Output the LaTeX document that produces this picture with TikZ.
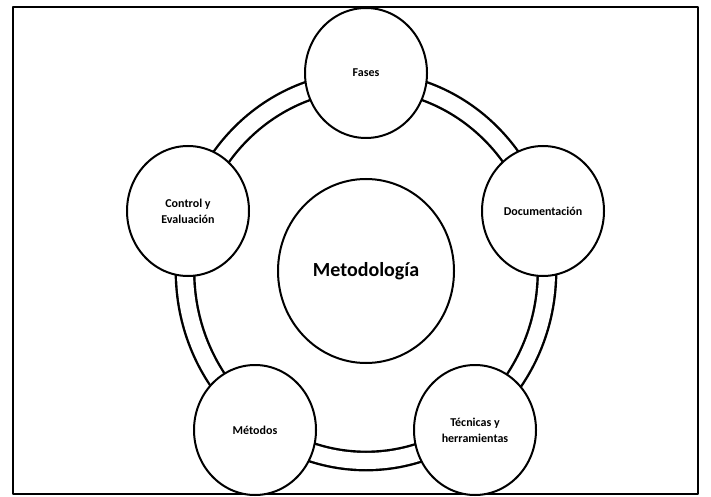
\documentclass[tikz,border=0pt]{standalone}
\usepackage{fontspec}
\setmainfont{Carlito}
\usetikzlibrary{shapes.geometric}

\begin{document}
\begin{tikzpicture}[x=0.5pt,y=-0.5pt, line join=round, line cap=round,
	fase/.style={ellipse, draw, line width=1pt, fill=white, minimum width=61pt, minimum height=65pt, inner sep=0pt, align=center, font=\bfseries\fontsize{6}{8}\selectfont},
	anillo/.style={line width=1.2pt, double, double distance=8pt}]
	\useasboundingbox (0,0) rectangle (711,497);
	\draw[line width=1pt] (13,7) rectangle (698,494);
	\coordinate (cen) at (366,271);
	% anillo doble detras de las fases
	\draw[anillo] (cen) ellipse [x radius=90.5pt, y radius=95pt];
	\node[ellipse, draw, line width=1pt, fill=white, minimum width=88pt, minimum height=92pt, font=\bfseries\fontsize{10}{12}\selectfont] (meto) at (cen) {Metodología};
	\node[fase] (fases) at (366,73) {Fases};
	\node[fase] (docu) at (543,211) {Documentación};
	\node[fase] (tecnicas) at (475,430) {Técnicas y\\herramientas};
	\node[fase] (metodos) at (255,430) {Métodos};
	\node[fase] (control) at (188,211) {Control y\\Evaluación};
\end{tikzpicture}
\end{document}
